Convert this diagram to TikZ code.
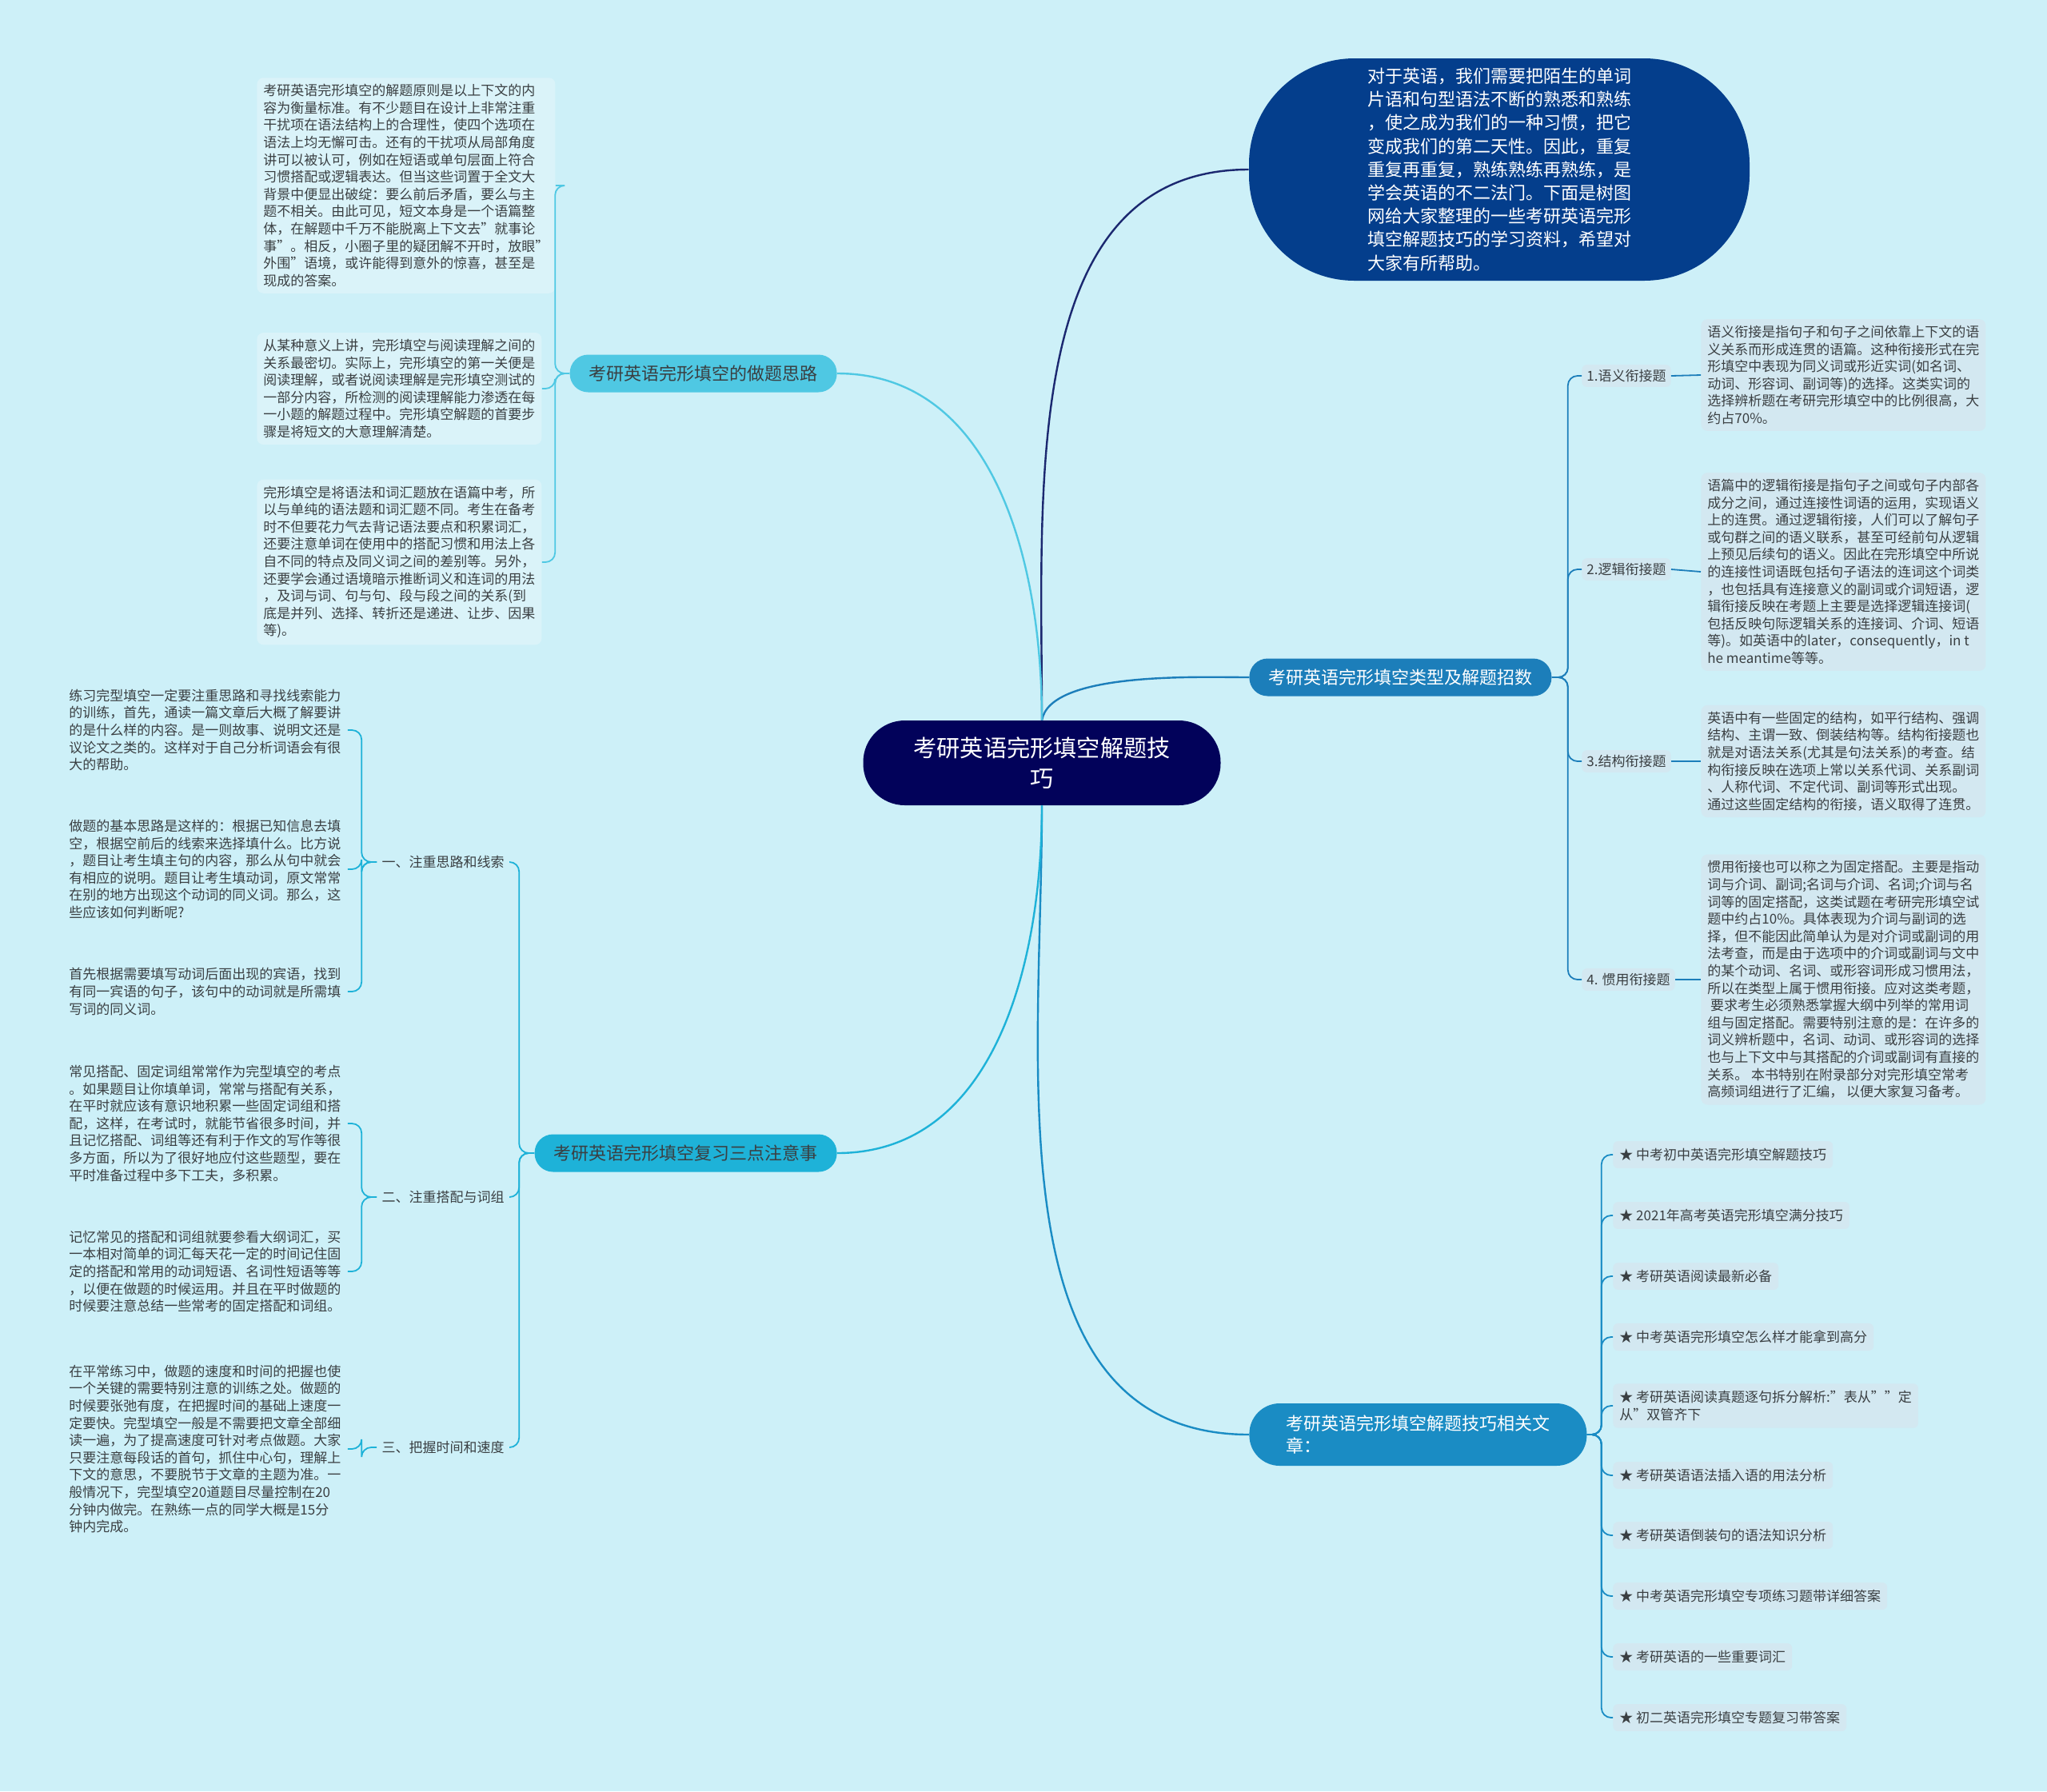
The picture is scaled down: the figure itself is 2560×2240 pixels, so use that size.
\documentclass[tikz,border=0pt]{standalone}
\usepackage{fontspec}
\setmainfont{Noto Sans CJK SC}
\usepackage{tikz}
\usetikzlibrary{positioning}
\definecolor{bg}{HTML}{CDF0F8}
\definecolor{ink}{HTML}{3A3F42}
\definecolor{navy}{HTML}{02025A}
\definecolor{deep}{HTML}{043E8C}
\definecolor{ctypes}{HTML}{1C7EBA}
\definecolor{crel}{HTML}{1A8CC4}
\definecolor{cb1}{HTML}{4FC8E3}
\definecolor{cb2}{HTML}{1EB2D8}
\definecolor{lnavy}{HTML}{1B2870}
\definecolor{pale}{HTML}{DAF3F9}
\definecolor{mist}{HTML}{D3E8F1}
\tikzset{
  every node/.style={font=\fontsize{8.5}{10.8}\selectfont, text=ink},
  para/.style={align=left, inner xsep=4pt, inner ysep=4pt, anchor=west},
  parabox/.style={para, fill=pale, rounded corners=4pt},
  paragrey/.style={para, fill=mist, rounded corners=4pt},
  tag/.style={fill=mist, rounded corners=3pt, inner xsep=3pt, inner ysep=3pt},
  topic/.style={rounded corners=11.5pt, minimum height=23.5pt, inner xsep=12pt,
                font=\fontsize{11}{14}\selectfont},
  link/.style={line width=1.2pt},
  twig/.style={line width=0.9pt, rounded corners=6pt}
}

\begin{document}
\begin{tikzpicture}[x=0.5pt,y=-0.5pt]
  \fill[bg] (0,0) rectangle (2560,2240);

  % centre and first level
  \node[fill=navy, text=white, rounded corners=26pt, minimum width=223.5pt, minimum height=53pt,
        align=center, font=\fontsize{14.6}{18.8}\selectfont] (root) at (1303,954)
        {考研英语完形填空解题技\\巧};
  \node[fill=deep, text=white, rounded corners=66pt, minimum width=313pt, minimum height=139pt,
        align=left, font=\fontsize{11}{14.6}\selectfont] (intro) at (1875,212)
        {对于英语，我们需要把陌生的单词\\片语和句型语法不断的熟悉和熟练\\，使之成为我们的一种习惯，把它\\变成我们的第二天性。因此，重复\\重复再重复，熟练熟练再熟练，是\\学会英语的不二法门。下面是树图\\网给大家整理的一些考研英语完形\\填空解题技巧的学习资料，希望对\\大家有所帮助。};
  \node[topic, fill=ctypes, text=white, anchor=west] (types) at (1562,847) {考研英语完形填空类型及解题招数};
  \node[topic, fill=crel, text=white, anchor=west, align=left, text width=165pt, minimum width=211pt,
        minimum height=39pt, rounded corners=19pt] (rel) at (1562,1794) {考研英语完形填空解题技巧相关文\\章：};
  \node[topic, fill=cb1, anchor=east] (b1) at (1047,467) {考研英语完形填空的做题思路};
  \node[topic, fill=cb2, anchor=east] (b2) at (1047,1442) {考研英语完形填空复习三点注意事};

  % left top
  \node[parabox] (p1) at (321,232) {考研英语完形填空的解题原则是以上下文的内\\容为衡量标准。有不少题目在设计上非常注重\\干扰项在语法结构上的合理性，使四个选项在\\语法上均无懈可击。还有的干扰项从局部角度\\讲可以被认可，例如在短语或单句层面上符合\\习惯搭配或逻辑表达。但当这些词置于全文大\\背景中便显出破绽：要么前后矛盾，要么与主\\题不相关。由此可见，短文本身是一个语篇整\\体，在解题中千万不能脱离上下文去"就事论\\事"。相反，小圈子里的疑团解不开时，放眼"\\外围"语境，或许能得到意外的惊喜，甚至是\\现成的答案。};
  \node[parabox] (p2) at (321,486) {从某种意义上讲，完形填空与阅读理解之间的\\关系最密切。实际上，完形填空的第一关便是\\阅读理解，或者说阅读理解是完形填空测试的\\一部分内容，所检测的阅读理解能力渗透在每\\一小题的解题过程中。完形填空解题的首要步\\骤是将短文的大意理解清楚。};
  \node[parabox] (p3) at (321,703) {完形填空是将语法和词汇题放在语篇中考，所\\以与单纯的语法题和词汇题不同。考生在备考\\时不但要花力气去背记语法要点和积累词汇，\\还要注意单词在使用中的搭配习惯和用法上各\\自不同的特点及同义词之间的差别等。另外，\\还要学会通过语境暗示推断词义和连词的用法\\，及词与词、句与句、段与段之间的关系(到\\底是并列、选择、转折还是递进、让步、因果\\等)。};

  % left bottom
  \node[tag, fill=bg, anchor=east] (la) at (637,1078) {一、注重思路和线索};
  \node[tag, fill=bg, anchor=east] (lb) at (637,1497) {二、注重搭配与词组};
  \node[tag, fill=bg, anchor=east] (lc) at (637,1810) {三、把握时间和速度};
  \node[para] (pa) at (78,913) {练习完型填空一定要注重思路和寻找线索能力\\的训练，首先，通读一篇文章后大概了解要讲\\的是什么样的内容。是一则故事、说明文还是\\议论文之类的。这样对于自己分析词语会有很\\大的帮助。};
  \node[para] (pb) at (78,1087) {做题的基本思路是这样的：根据已知信息去填\\空，根据空前后的线索来选择填什么。比方说\\，题目让考生填主句的内容，那么从句中就会\\有相应的说明。题目让考生填动词，原文常常\\在别的地方出现这个动词的同义词。那么，这\\些应该如何判断呢?};
  \node[para] (pc) at (78,1240) {首先根据需要填写动词后面出现的宾语，找到\\有同一宾语的句子，该句中的动词就是所需填\\写词的同义词。};
  \node[para] (pd) at (78,1405) {常见搭配、固定词组常常作为完型填空的考点\\。如果题目让你填单词，常常与搭配有关系，\\在平时就应该有意识地积累一些固定词组和搭\\配，这样，在考试时，就能节省很多时间，并\\且记忆搭配、词组等还有利于作文的写作等很\\多方面，所以为了很好地应付这些题型，要在\\平时准备过程中多下工夫，多积累。};
  \node[para] (pe) at (78,1590) {记忆常见的搭配和词组就要参看大纲词汇，买\\一本相对简单的词汇每天花一定的时间记住固\\定的搭配和常用的动词短语、名词性短语等等\\，以便在做题的时候运用。并且在平时做题的\\时候要注意总结一些常考的固定搭配和词组。};
  \node[para] (pf) at (78,1812) {在平常练习中，做题的速度和时间的把握也使\\一个关键的需要特别注意的训练之处。做题的\\时候要张弛有度，在把握时间的基础上速度一\\定要快。完型填空一般是不需要把文章全部细\\读一遍，为了提高速度可针对考点做题。大家\\只要注意每段话的首句，抓住中心句，理解上\\下文的意思，不要脱节于文章的主题为准。一\\般情况下，完型填空20道题目尽量控制在20\\分钟内做完。在熟练一点的同学大概是15分\\钟内完成。};

  % right: types
  \node[tag, anchor=west] (t1) at (1978,470) {1.语义衔接题};
  \node[tag, anchor=west] (t2) at (1978,712) {2.逻辑衔接题};
  \node[tag, anchor=west] (t3) at (1978,952) {3.结构衔接题};
  \node[tag, anchor=west] (t4) at (1978,1225) {4. 惯用衔接题};
  \node[paragrey] (r1) at (2127,469) {语义衔接是指句子和句子之间依靠上下文的语\\义关系而形成连贯的语篇。这种衔接形式在完\\形填空中表现为同义词或形近实词(如名词、\\动词、形容词、副词等)的选择。这类实词的\\选择辨析题在考研完形填空中的比例很高，大\\约占70\%。};
  \node[paragrey] (r2) at (2127,715) {语篇中的逻辑衔接是指句子之间或句子内部各\\成分之间，通过连接性词语的运用，实现语义\\上的连贯。通过逻辑衔接，人们可以了解句子\\或句群之间的语义联系，甚至可经前句从逻辑\\上预见后续句的语义。因此在完形填空中所说\\的连接性词语既包括句子语法的连词这个词类\\，也包括具有连接意义的副词或介词短语，逻\\辑衔接反映在考题上主要是选择逻辑连接词(\\包括反映句际逻辑关系的连接词、介词、短语\\等)。如英语中的later，consequently，in t\\he meantime等等。};
  \node[paragrey] (r3) at (2127,952) {英语中有一些固定的结构，如平行结构、强调\\结构、主谓一致、倒装结构等。结构衔接题也\\就是对语法关系(尤其是句法关系)的考查。结\\构衔接反映在选项上常以关系代词、关系副词\\、人称代词、不定代词、副词等形式出现。\\通过这些固定结构的衔接，语义取得了连贯。};
  \node[paragrey] (r4) at (2127,1225) {惯用衔接也可以称之为固定搭配。主要是指动\\词与介词、副词;名词与介词、名词;介词与名\\词等的固定搭配，这类试题在考研完形填空试\\题中约占10\%。具体表现为介词与副词的选\\择，但不能因此简单认为是对介词或副词的用\\法考查，而是由于选项中的介词或副词与文中\\的某个动词、名词、或形容词形成习惯用法，\\所以在类型上属于惯用衔接。应对这类考题，\\\ 要求考生必须熟悉掌握大纲中列举的常用词\\组与固定搭配。需要特别注意的是：在许多的\\词义辨析题中，名词、动词、或形容词的选择\\也与上下文中与其搭配的介词或副词有直接的\\关系。 本书特别在附录部分对完形填空常考\\高频词组进行了汇编， 以便大家复习备考。};

  % right: related articles
  \node[tag, anchor=west, inner xsep=4pt, inner ysep=4.5pt] (li1) at (2017,1444) {★ 中考初中英语完形填空解题技巧};
  \node[tag, anchor=west, inner xsep=4pt, inner ysep=4.5pt] (li2) at (2017,1520) {★ 2021年高考英语完形填空满分技巧};
  \node[tag, anchor=west, inner xsep=4pt, inner ysep=4.5pt] (li3) at (2017,1596) {★ 考研英语阅读最新必备};
  \node[tag, anchor=west, inner xsep=4pt, inner ysep=4.5pt] (li4) at (2017,1672) {★ 中考英语完形填空怎么样才能拿到高分};
  \node[tag, anchor=west, inner xsep=4pt, inner ysep=4.5pt, align=left] (li5) at (2017,1758) {★ 考研英语阅读真题逐句拆分解析:"表从""定\\从"双管齐下};
  \node[tag, anchor=west, inner xsep=4pt, inner ysep=4.5pt] (li6) at (2017,1845) {★ 考研英语语法插入语的用法分析};
  \node[tag, anchor=west, inner xsep=4pt, inner ysep=4.5pt] (li7) at (2017,1920) {★ 考研英语倒装句的语法知识分析};
  \node[tag, anchor=west, inner xsep=4pt, inner ysep=4.5pt] (li8) at (2017,1996) {★ 中考英语完形填空专项练习题带详细答案};
  \node[tag, anchor=west, inner xsep=4pt, inner ysep=4.5pt] (li9) at (2017,2072) {★ 考研英语的一些重要词汇};
  \node[tag, anchor=west, inner xsep=4pt, inner ysep=4.5pt] (li10) at (2017,2148) {★ 初二英语完形填空专题复习带答案};

  % connectors
  \draw[link, draw=lnavy] (root.north) to[out=90,in=180] (intro.west);
  \draw[link, draw=ctypes] (root.north) to[out=80,in=180,looseness=0.6] (types.west);
  \draw[link, draw=crel] (root.south) to[out=-90,in=180] (rel.west);
  \draw[link, draw=cb1] (root.north) to[out=90,in=0] (b1.east);
  \draw[link, draw=cb2] (root.south) to[out=-90,in=0] (b2.east);

  \foreach \p in {p1,p2,p3}
     \draw[twig, draw=cb1] (b1.west) -- ++(-18,0) |- (\p.east);
  \foreach \l in {la,lb,lc}
     \draw[twig, draw=cb2] (b2.west) -- ++(-19,0) |- (\l.east);
  \foreach \l/\p in {la/pa,la/pb,la/pc,lb/pd,lb/pe,lc/pf}
     \draw[twig, draw=cb2] (\l.west) -- ++(-19,0) |- (\p.east);
  \foreach \t/\r in {t1/r1,t2/r2,t3/r3,t4/r4} {
     \draw[twig, draw=ctypes] (types.east) -- ++(20,0) |- (\t.west);
     \draw[twig, draw=ctypes] (\t.east) -- (\r.west);
  }
  \foreach \i in {1,...,10}
     \draw[twig, draw=crel] (rel.east) -- ++(18,0) |- (li\i.west);
\end{tikzpicture}
\end{document}
